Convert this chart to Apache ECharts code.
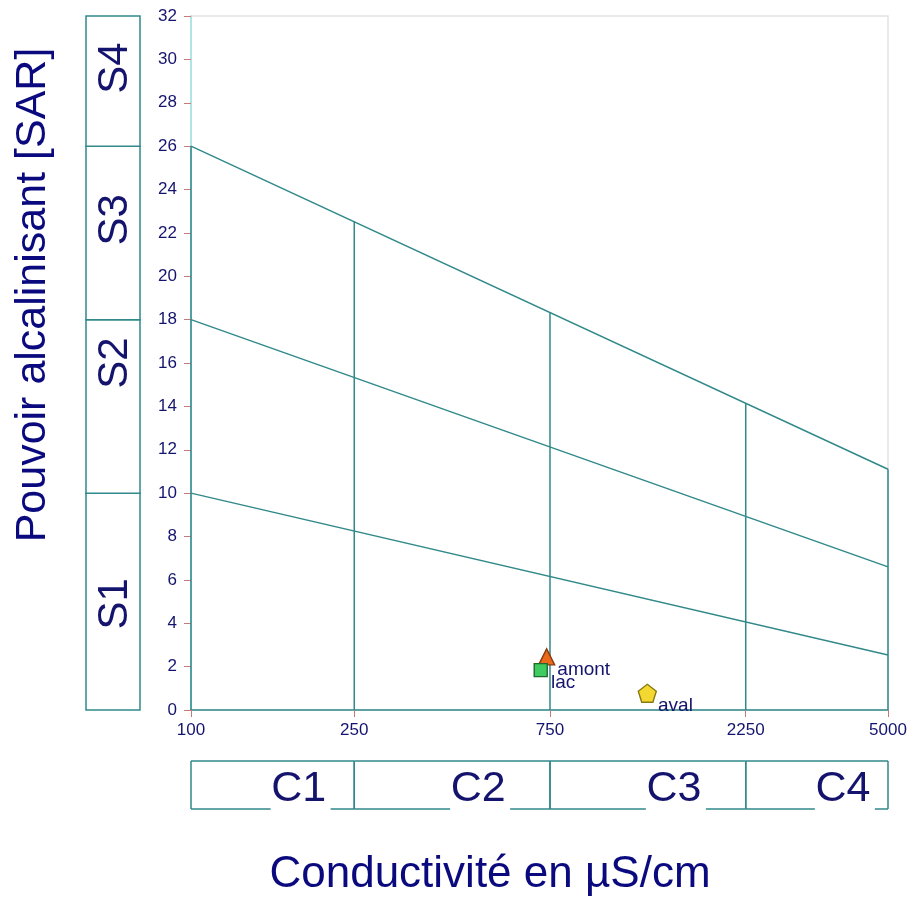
<!DOCTYPE html>
<html>
<head>
<meta charset="utf-8">
<script src="https://cdn.jsdelivr.net/npm/echarts@6/dist/echarts.min.js"></script>
<style>
  html, body { margin: 0; padding: 0; background: #fff; }
  #main { width: 910px; height: 898px; }
</style>
</head>
<body>
<div id="main"></div>
<script>
// classes de conductivité (µS/cm) et de SAR
var condEdges = [100, 250, 750, 2250, 5000];
var condNames = ['C1', 'C2', 'C3', 'C4'];
var sarEdges = [0, 10, 18, 26, 32];
var sarNames = ['S1', 'S2', 'S3', 'S4'];
var sarLabelAt = [4.9, 16, 22.6, 29.6];

// limites obliques (valeur à 100 et à 5000 µS/cm)
var limitLow = [10, 2.54];
var limitMid = [18, 6.6];
var limitHigh = [26, 11.1];
// hauteur des verticales aux limites de conductivité
var verticalTops = [26, 22.55, 18.33, 14.15, 11.1];

// échantillons
var sampleNames = ['amont', 'lac', 'aval'];
var sampleCond = [736, 712, 1295];
var sampleSar = [2.45, 1.84, 0.77];

var teal = '#31898a';
var navy = '#14146e';
var fontFam = '"Liberation Sans", Arial, sans-serif';

var sampleStyles = [
    { symbol: 'triangle', size: 16, color: '#ea6a1c', border: '#8a3a0c', dist: 2, dy: 13 },
    { symbol: 'rect', size: 13, color: '#3ecb5f', border: '#1f6a2f', dist: 3, dy: 13 },
    { symbol: 'path://M0,-10 L9.51,-3.09 L5.88,8.09 L-5.88,8.09 L-9.51,-3.09 Z', size: 18, color: '#f4d832', border: '#8a7a12', dist: 1, dy: 12 }
];

var myChart = echarts.init(document.getElementById('main'));

var series = [];

// lignes obliques
[limitLow, limitMid, limitHigh].forEach(function (l) {
    series.push({
        type: 'line', xAxisIndex: 0, yAxisIndex: 0, silent: true,
        symbol: 'none', lineStyle: { color: teal, width: 1.5 },
        data: [[condEdges[0], l[0]], [condEdges[condEdges.length - 1], l[1]]]
    });
});

// verticales
condEdges.forEach(function (c, i) {
    series.push({
        type: 'line', xAxisIndex: 0, yAxisIndex: 0, silent: true,
        symbol: 'none', lineStyle: { color: teal, width: 1.5 },
        data: [[c, 0], [c, verticalTops[i]]]
    });
});

// points
series.push({
    type: 'scatter', xAxisIndex: 0, yAxisIndex: 0, z: 5,
    data: sampleNames.map(function (n, i) {
        var s = sampleStyles[i];
        return {
            name: n,
            value: [sampleCond[i], sampleSar[i]],
            symbol: s.symbol,
            symbolSize: s.size,
            itemStyle: { color: s.color, borderColor: s.border, borderWidth: 1.4, opacity: 1 },
            label: {
                show: true, position: 'right', distance: s.dist, offset: [0, s.dy],
                formatter: '{b}', color: navy, fontSize: 19, fontFamily: fontFam
            }
        };
    })
});

// cases S à gauche
series.push({
    type: 'custom', xAxisIndex: 1, yAxisIndex: 1, silent: true,
    data: sarNames.map(function (n, i) { return [sarEdges[i], sarEdges[i + 1], sarLabelAt[i]]; }),
    renderItem: function (params, api) {
        var p0 = api.coord([0, api.value(0)]);
        var p1 = api.coord([1, api.value(1)]);
        var pl = api.coord([0.5, api.value(2)]);
        return {
            type: 'group',
            children: [
                { type: 'rect', shape: { x: p0[0], y: p1[1], width: p1[0] - p0[0], height: p0[1] - p1[1] },
                  style: { fill: '#fff', stroke: teal, lineWidth: 1.5 } },
                { type: 'text', x: pl[0] + 2, y: pl[1], rotation: Math.PI / 2,
                  style: { text: sarNames[params.dataIndex], fontSize: 42, fontFamily: fontFam,
                           fill: navy, align: 'center', verticalAlign: 'middle' } }
            ]
        };
    }
});

// cases C en bas
series.push({
    type: 'custom', xAxisIndex: 2, yAxisIndex: 2, silent: true,
    data: condNames.map(function (n, i) { return [condEdges[i], condEdges[i + 1]]; }),
    renderItem: function (params, api) {
        var x0 = api.coord([api.value(0), 0])[0];
        var x1 = api.coord([api.value(1), 0])[0];
        var yTop = api.coord([api.value(0), 1])[1];
        var yBot = api.coord([api.value(0), 0])[1];
        var tc = (x0 + x1) / 2 + 26;
        var half = 27;
        var ls = { stroke: teal, lineWidth: 1.5 };
        return {
            type: 'group',
            children: [
                { type: 'line', shape: { x1: x0, y1: yTop, x2: x1, y2: yTop }, style: ls },
                { type: 'line', shape: { x1: x0, y1: yTop, x2: x0, y2: yBot }, style: ls },
                { type: 'line', shape: { x1: x1, y1: yTop, x2: x1, y2: yBot }, style: ls },
                { type: 'line', shape: { x1: x0, y1: yBot, x2: tc - half - 1, y2: yBot }, style: ls },
                { type: 'line', shape: { x1: tc + half + 5, y1: yBot, x2: x1, y2: yBot }, style: ls },
                { type: 'text', x: tc, y: (yTop + yBot) / 2 + 4,
                  style: { text: condNames[params.dataIndex], fontSize: 43, fontFamily: fontFam,
                           fill: navy, align: 'center', verticalAlign: 'middle' } }
            ]
        };
    }
});

var option = {
    animation: false,
    backgroundColor: '#fff',
    grid: [
        { left: 191, top: 16, right: 22, bottom: 188, show: true, borderColor: '#e2e2e2', borderWidth: 1.5 },
        { left: 86, top: 16, width: 54, bottom: 188 },
        { left: 191, right: 22, top: 761, height: 48 }
    ],
    xAxis: [
        {
            type: 'log', gridIndex: 0, min: 100, max: 5000, logBase: 10,
            axisLine: { lineStyle: { color: teal, width: 1.5 } },
            axisTick: { show: true, customValues: condEdges, length: 7, lineStyle: { color: '#c97878', width: 1 } },
            axisLabel: {
                customValues: condEdges, color: navy, fontSize: 17, fontFamily: fontFam, margin: 12,
                formatter: function (v) { return String(Math.round(v)); }
            },
            splitLine: { show: false },
            minorTick: { show: false }
        },
        { type: 'value', gridIndex: 1, min: 0, max: 1, show: false },
        { type: 'log', gridIndex: 2, min: 100, max: 5000, logBase: 10, show: false }
    ],
    yAxis: [
        {
            type: 'value', gridIndex: 0, min: 0, max: 32, interval: 2,
            axisLine: { show: true, lineStyle: { color: '#9fe2e2', width: 1.5 } },
            axisTick: { show: true, length: 7, lineStyle: { color: '#c97878', width: 1 } },
            axisLabel: { color: navy, fontSize: 17, fontFamily: fontFam, margin: 14 },
            splitLine: { show: false }
        },
        { type: 'value', gridIndex: 1, min: 0, max: 32, show: false },
        { type: 'value', gridIndex: 2, min: 0, max: 1, show: false }
    ],
    graphic: [
        { type: 'text', x: 33, y: 295, rotation: Math.PI / 2,
          style: { text: 'Pouvoir alcalinisant [SAR]', fontSize: 43, fontFamily: fontFam,
                   fill: '#0a0a7e', align: 'center', verticalAlign: 'middle' } },
        { type: 'text', x: 490, y: 875,
          style: { text: 'Conductivité en µS/cm', fontSize: 44, fontFamily: fontFam,
                   fill: '#0a0a7e', align: 'center', verticalAlign: 'middle' } }
    ],
    series: series
};

myChart.setOption(option);
</script>
</body>
</html>
